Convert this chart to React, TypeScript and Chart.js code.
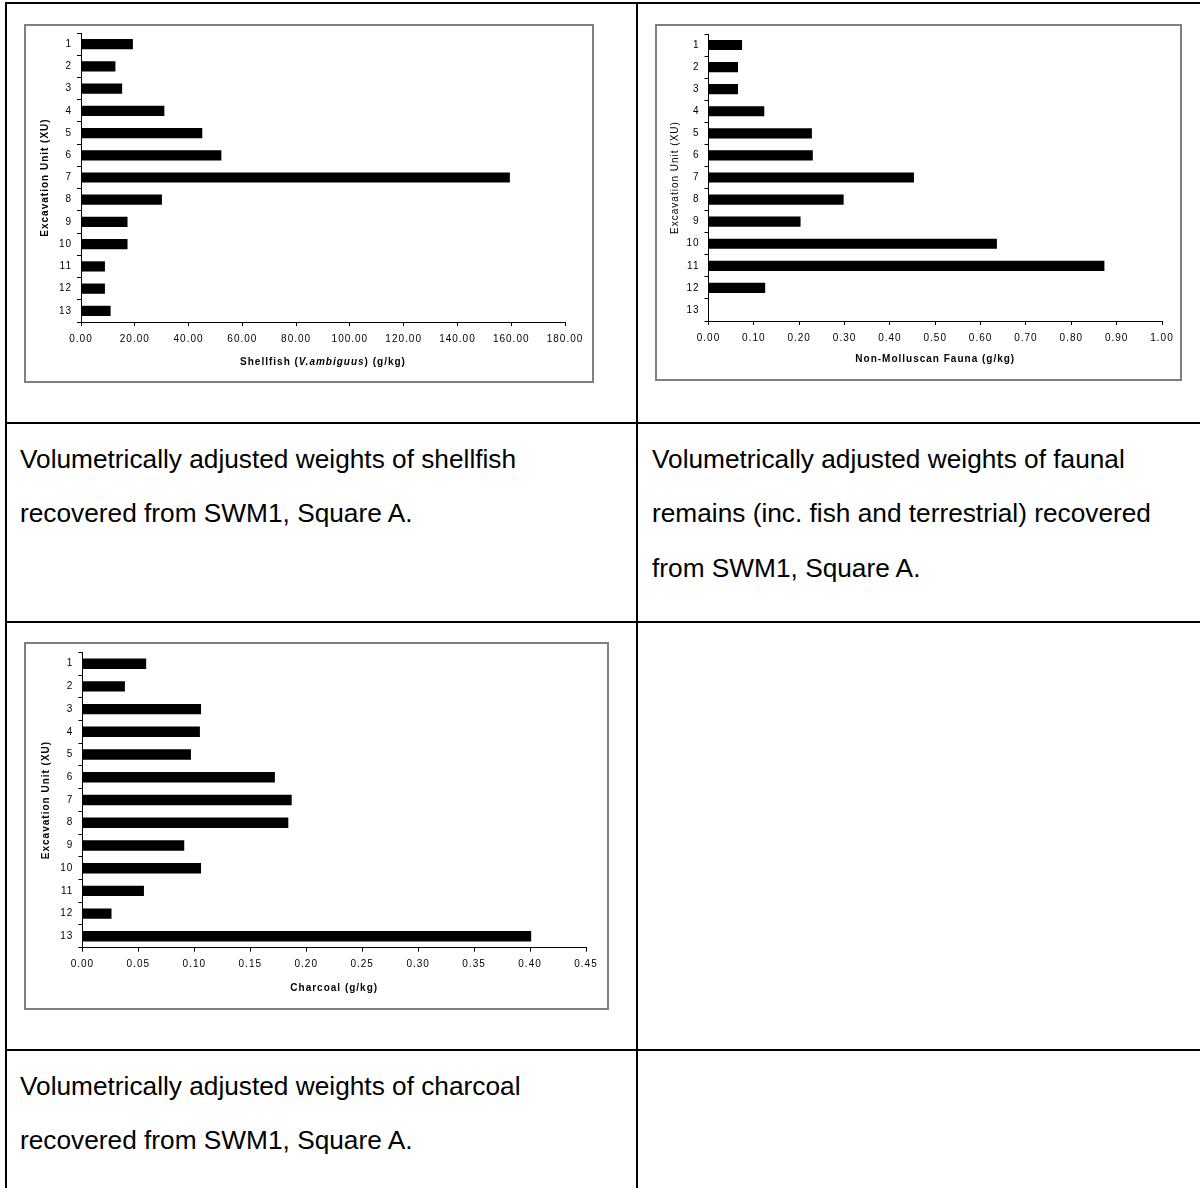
import React, { useEffect, useRef } from 'react';
import { Chart, registerables } from 'chart.js';

Chart.register(...registerables);

// Excavation units (XU), listed top to bottom
const units = ['1', '2', '3', '4', '5', '6', '7', '8', '9', '10', '11', '12', '13'];

// Volumetrically adjusted weights (g/kg) per excavation unit
const shellfish = [19.3, 12.8, 15.3, 31.0, 45.1, 52.2, 159.5, 30.1, 17.3, 17.3, 8.9, 8.9, 11.0];
const fauna = [0.074, 0.065, 0.065, 0.123, 0.228, 0.23, 0.453, 0.298, 0.203, 0.636, 0.873, 0.125, null];
const charcoal = [0.057, 0.038, 0.106, 0.105, 0.097, 0.172, 0.187, 0.184, 0.091, 0.106, 0.055, 0.026, 0.401];

// Value-axis tick labels
const shellfishTicks = [0, 20, 40, 60, 80, 100, 120, 140, 160, 180];
const faunaTicks = [0, 0.1, 0.2, 0.3, 0.4, 0.5, 0.6, 0.7, 0.8, 0.9, 1.0];
const charcoalTicks = [0, 0.05, 0.1, 0.15, 0.2, 0.25, 0.3, 0.35, 0.4, 0.45];

// Caption text for each figure
const shellfishCaption = ['Volumetrically adjusted weights of shellfish', 'recovered from SWM1, Square A.'];
const faunaCaption = [
  'Volumetrically adjusted weights of faunal',
  'remains (inc. fish and terrestrial) recovered',
  'from SWM1, Square A.',
];
const charcoalCaption = ['Volumetrically adjusted weights of charcoal', 'recovered from SWM1, Square A.'];

const FONT = '"Liberation Sans", Arial, sans-serif';

type Seg = { text: string; italic?: boolean };

type PanelProps = {
  values: (number | null)[];
  ticks: number[];
  left: number;
  top: number;
  width: number;
  height: number;
  area: { left: number; right: number; top: number; bottom: number };
  yTitle: string;
  yTitleBold: boolean;
  yTitlePad: number;
  xTitle: Seg[];
  xTitleOffset: number;
};

function BarPanel(p: PanelProps) {
  const ref = useRef<HTMLCanvasElement | null>(null);
  const cw = p.width - 4;
  const ch = p.height - 4;

  useEffect(() => {
    if (!ref.current) return;
    const spacing = {
      id: 'spacing',
      beforeUpdate(c: any) {
        c.ctx.letterSpacing = '1px';
      },
      beforeDraw(c: any) {
        c.ctx.letterSpacing = '1px';
      },
    };
    const xTitle = {
      id: 'xTitle',
      afterDraw(c: any) {
        const s = c.scales.x;
        const ctx = c.ctx;
        ctx.save();
        ctx.letterSpacing = '1px';
        ctx.fillStyle = '#000';
        ctx.textBaseline = 'middle';
        ctx.textAlign = 'left';
        const fontOf = (sg: Seg) => `${sg.italic ? 'italic ' : ''}bold 10px ${FONT}`;
        let total = 0;
        const widths = p.xTitle.map((sg) => {
          ctx.font = fontOf(sg);
          const w = ctx.measureText(sg.text).width;
          total += w;
          return w;
        });
        let x = (s.left + s.right) / 2 - total / 2;
        const y = s.bottom - p.xTitleOffset;
        p.xTitle.forEach((sg, i) => {
          ctx.font = fontOf(sg);
          ctx.fillText(sg.text, x, y);
          x += widths[i];
        });
        ctx.restore();
      },
    };

    const chart = new Chart(ref.current, {
      type: 'bar',
      data: {
        labels: units,
        datasets: [
          {
            data: p.values,
            backgroundColor: '#000000',
            borderWidth: 0,
            barPercentage: 0.46,
            categoryPercentage: 1,
          },
        ],
      },
      options: {
        indexAxis: 'y',
        animation: false,
        responsive: false,
        events: [],
        layout: {
          padding: { left: 0, top: p.area.top, right: cw - p.area.right, bottom: 0 },
        },
        plugins: {
          legend: { display: false },
          tooltip: { enabled: false },
        },
        scales: {
          y: {
            type: 'category',
            position: 'left',
            grid: {
              offset: true,
              drawOnChartArea: false,
              drawTicks: true,
              tickLength: 4,
              color: '#000',
              lineWidth: 1,
            },
            border: { display: true, color: '#000', width: 1 },
            ticks: {
              color: '#000',
              padding: 5,
              font: { family: FONT, size: 10 },
            },
            title: {
              display: true,
              text: p.yTitle,
              color: '#000',
              font: { family: FONT, size: 10, weight: p.yTitleBold ? 'bold' : 'normal' },
              padding: { top: p.yTitlePad, bottom: 0 },
            },
            afterFit(s: any) {
              s.width = p.area.left;
              s.paddingTop = 0;
              s.paddingBottom = 0;
            },
          },
          x: {
            type: 'linear',
            position: 'bottom',
            min: p.ticks[0],
            max: p.ticks[p.ticks.length - 1],
            grid: {
              drawOnChartArea: false,
              drawTicks: true,
              tickLength: 4,
              color: '#000',
              lineWidth: 1,
            },
            border: { display: true, color: '#000', width: 1 },
            ticks: {
              color: '#000',
              padding: 7,
              maxRotation: 0,
              autoSkip: false,
              font: { family: FONT, size: 10 },
              callback: (v: any) => Number(v).toFixed(2),
            },
            afterBuildTicks(s: any) {
              s.ticks = p.ticks.map((v) => ({ value: v }));
            },
            afterFit(s: any) {
              s.height = ch - p.area.bottom;
              s.paddingLeft = 0;
              s.paddingRight = 0;
            },
          },
        },
      },
      plugins: [spacing, xTitle],
    } as any);
    return () => chart.destroy();
  }, []);

  return (
    <div
      style={{
        position: 'absolute',
        left: p.left,
        top: p.top,
        width: p.width,
        height: p.height,
        boxSizing: 'border-box',
        border: '2px solid #7f7f7f',
        background: '#fff',
      }}
    >
      <canvas ref={ref} width={cw} height={ch} style={{ display: 'block', width: cw, height: ch }} />
    </div>
  );
}

function Caption({ lines, left, top }: { lines: string[]; left: number; top: number }) {
  return (
    <div
      style={{
        position: 'absolute',
        left,
        top,
        fontFamily: FONT,
        fontSize: 26.25,
        lineHeight: '54.3px',
        color: '#000',
        whiteSpace: 'nowrap',
      }}
    >
      {lines.map((l, i) => (
        <div key={i}>{l}</div>
      ))}
    </div>
  );
}

const line = (l: number, t: number, w: number, h: number) => (
  <div style={{ position: 'absolute', left: l, top: t, width: w, height: h, background: '#000' }} />
);

export default function App() {
  return (
    <div style={{ position: 'absolute', left: 0, top: 0, width: 1200, height: 1188, background: '#fff', overflow: 'hidden' }}>
      {/* table rules */}
      {line(5, 2, 1195, 2)}
      {line(5, 2, 2, 1186)}
      {line(636, 2, 2, 1186)}
      {line(5, 422, 1195, 2)}
      {line(5, 621, 1195, 2)}
      {line(5, 1049, 1195, 2)}

      <BarPanel
        values={shellfish}
        ticks={shellfishTicks}
        left={24}
        top={24}
        width={570}
        height={359}
        area={{ left: 55, right: 539, top: 7, bottom: 296 }}
        yTitle="Excavation Unit (XU)"
        yTitleBold={true}
        yTitlePad={13}
        xTitle={[{ text: 'Shellfish (' }, { text: 'V.ambiguus', italic: true }, { text: ') (g/kg)' }]}
        xTitleOffset={19}
      />
      <BarPanel
        values={fauna}
        ticks={faunaTicks}
        left={655}
        top={24}
        width={527}
        height={357}
        area={{ left: 51.5, right: 505, top: 8, bottom: 295 }}
        yTitle="Excavation Unit (XU)"
        yTitleBold={false}
        yTitlePad={12}
        xTitle={[{ text: 'Non-Molluscan Fauna (g/kg)' }]}
        xTitleOffset={20}
      />
      <BarPanel
        values={charcoal}
        ticks={charcoalTicks}
        left={24}
        top={642}
        width={585}
        height={368}
        area={{ left: 56.4, right: 560, top: 8.3, bottom: 303.7 }}
        yTitle="Excavation Unit (XU)"
        yTitleBold={true}
        yTitlePad={14.5}
        xTitle={[{ text: 'Charcoal (g/kg)' }]}
        xTitleOffset={20}
      />

      <Caption lines={shellfishCaption} left={20} top={432} />
      <Caption lines={faunaCaption} left={652} top={432} />
      <Caption lines={charcoalCaption} left={20} top={1059} />
    </div>
  );
}
